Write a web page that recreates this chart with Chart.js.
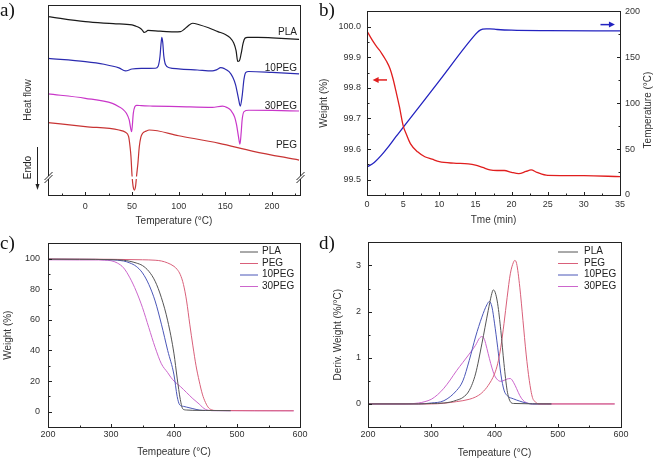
<!DOCTYPE html>
<html>
<head>
<meta charset="utf-8">
<script src="https://cdn.jsdelivr.net/npm/chart.js@4.4.0/dist/chart.umd.min.js"></script>
<style>
  body { margin: 0; background: #fff; width: 658px; height: 463px; position: relative; overflow: hidden; }
  canvas { position: absolute; }
  .tag { position: absolute; font-family: "Liberation Serif", "Times New Roman", serif; font-size: 19px; line-height: 19px; color: #111; }
</style>
</head>
<body>
<canvas id="chartA" width="329" height="230" style="left:0;top:0"></canvas>
<canvas id="chartB" width="348" height="230" style="left:310px;top:0"></canvas>
<canvas id="chartC" width="329" height="233" style="left:0;top:230px"></canvas>
<canvas id="chartD" width="329" height="233" style="left:329px;top:230px"></canvas>
<div class="tag" style="left:0;top:0">a)</div>
<div class="tag" style="left:319px;top:0">b)</div>
<div class="tag" style="left:0;top:233px">c)</div>
<div class="tag" style="left:319px;top:233px">d)</div>
<script>
// ===== a) DSC curves (arbitrary heat-flow units, offset traces) =====
const dscPLA_T = [-40, 0, 30, 50, 54, 58, 61, 63, 65, 67, 80, 95, 102, 106, 110, 115, 122, 132, 142, 150, 155, 159, 161.5, 163.3, 165, 167, 169, 171, 174, 185, 200, 229];
const dscPLA   = [93.9, 91.2, 90.2, 89.5, 88.9, 88.0, 86.8, 85.6, 85.9, 86.6, 86.2, 85.9, 86.0, 87.2, 89.0, 90.4, 89.6, 88.0, 86.0, 84.5, 82.8, 80.0, 76.0, 70.3, 70.6, 74.5, 79.8, 82.5, 83.0, 83.0, 82.7, 81.9];
const dsc10_T  = [-40, 0, 20, 36, 43, 50, 60, 75, 78, 80, 81, 82, 83, 84, 86, 90, 100, 120, 136, 141, 145, 149, 154, 158, 161, 164, 166, 168, 170, 172, 175, 200, 229];
const dsc10    = [71.9, 70.2, 68.8, 66.9, 65.3, 66.3, 66.6, 66.7, 67.8, 73.0, 79.0, 83.0, 80.0, 73.5, 68.5, 67.0, 66.4, 65.8, 65.3, 66.0, 67.0, 66.5, 64.9, 62.0, 58.0, 51.0, 46.8, 52.0, 61.0, 64.5, 65.0, 64.5, 63.7];
const dsc30_T  = [-40, 0, 29, 36, 40, 44, 47, 49.6, 51.4, 53, 55, 60, 72, 100, 136, 147, 152, 156, 160, 162, 164, 165.7, 167, 168, 170, 175, 200, 229];
const dsc30    = [53.2, 50.9, 48.2, 46.5, 45.2, 43.0, 39.5, 33.3, 43.0, 46.5, 47.2, 47.0, 46.8, 46.5, 46.1, 46.8, 46.0, 44.5, 41.0, 37.0, 31.0, 26.8, 33.0, 39.5, 43.9, 44.6, 44.5, 44.2];
const dscPEG_T = [-40, 0, 36, 43, 46.4, 48, 48.9, 50, 51.2, 52.5, 53.8, 55, 56.4, 57.8, 59.5, 61.4, 65, 68.5, 100, 143.5, 180, 229];
const dscPEG   = [38.1, 36.0, 34.2, 33.0, 30.7, 25.0, 20.2, 10.5, 4.5, 2.6, 4.5, 10.5, 17.0, 25.4, 30.5, 32.5, 33.6, 34.2, 31.2, 27.2, 23.0, 18.4];
const dscLabels = ["PLA", "10PEG", "30PEG", "PEG"];
const dscBreakAt = 9.2;

// ===== b) isothermal TGA: weight & temperature vs time =====
const isoTime   = [0, 0.5, 1, 1.5, 2, 2.7, 3.2, 3.6, 4, 4.5, 5, 5.5, 6, 7, 8, 9, 10, 12, 14, 15, 16, 17, 18, 19, 20, 21, 22, 22.7, 23.5, 25, 30, 35];
const isoWeight = [99.986, 99.965, 99.946, 99.93, 99.914, 99.887, 99.862, 99.83, 99.79, 99.737, 99.677, 99.645, 99.618, 99.591, 99.575, 99.567, 99.559, 99.554, 99.552, 99.548, 99.54, 99.532, 99.53, 99.53, 99.524, 99.52, 99.527, 99.532, 99.524, 99.514, 99.513, 99.51];
const rampTime  = [0, 1, 2, 3, 4, 5, 10, 15, 15.5, 16, 16.5, 17, 18, 20, 25, 35];
const rampTemp  = [30.5, 35.5, 43.5, 53, 63.5, 73.6, 124.3, 174.9, 178.8, 180.6, 181, 181, 180.3, 179.5, 179, 178.8];

// ===== c) TGA weight loss =====
const tgaPLA_T = [200, 250, 300, 320, 330, 340, 350, 360, 370, 380, 390, 400, 405, 410, 414, 420, 430, 450, 490];
const tgaPLA   = [99.7, 99.6, 99.4, 99.0, 98.3, 97.2, 95.5, 91.8, 85.3, 74.5, 59.4, 37.8, 22.0, 8.0, 1.8, 1.1, 0.9, 0.8, 0.7];
const tgaPEG_T = [200, 300, 350, 370, 380, 390, 400, 405, 410, 415, 420, 425, 430, 435, 440, 445, 450, 455, 460, 465, 590];
const tgaPEG   = [99.8, 99.6, 99.3, 99.0, 98.5, 97.2, 95.0, 93.0, 89.6, 83.2, 72.4, 57.2, 43.0, 30.0, 20.0, 11.5, 6.0, 2.5, 1.2, 0.8, 0.6];
const tga10_T  = [200, 250, 300, 320, 330, 340, 350, 360, 370, 380, 390, 400, 405, 409, 415, 420, 430, 440, 450, 490];
const tga10    = [99.7, 99.6, 99.3, 98.5, 97.2, 95.0, 90.7, 83.2, 72.4, 57.2, 40.0, 24.0, 10.0, 4.5, 3.5, 3.0, 2.0, 1.1, 0.8, 0.7];
const tga30_T  = [200, 250, 280, 290, 300, 310, 320, 330, 340, 350, 360, 370, 380, 390, 395, 400, 410, 420, 430, 440, 445, 450, 455, 460, 590];
const tga30    = [99.3, 99.2, 99.2, 99.0, 98.7, 97.2, 94.0, 87.5, 78.8, 68.0, 55.0, 42.1, 31.3, 25.5, 22.5, 20.0, 16.5, 12.5, 8.5, 5.0, 3.0, 1.5, 0.9, 0.7, 0.6];

// ===== d) DTG curves =====
const dtgPLA_T = [200, 280, 300, 320, 330, 340, 350, 360, 370, 380, 390, 395, 398, 401, 405, 410, 415, 420, 425, 430, 490];
const dtgPLA   = [0, 0, 0.01, 0.02, 0.04, 0.08, 0.14, 0.29, 0.65, 1.3, 2.02, 2.35, 2.47, 2.42, 2.17, 1.59, 0.87, 0.29, 0.05, 0.01, 0];
const dtgPEG_T = [200, 300, 340, 360, 370, 380, 390, 400, 405, 410, 415, 420, 425, 430, 432, 435, 440, 445, 450, 455, 460, 465, 470, 590];
const dtgPEG   = [0, 0, 0.05, 0.1, 0.15, 0.24, 0.4, 0.65, 0.87, 1.23, 1.74, 2.31, 2.82, 3.07, 3.11, 3.04, 2.53, 1.81, 1.08, 0.51, 0.14, 0.04, 0, 0];
const dtg10_T  = [200, 280, 300, 320, 340, 350, 360, 370, 380, 388, 392, 396, 400, 405, 410, 415, 420, 430, 440, 450, 460, 490];
const dtg10    = [0, 0, 0.02, 0.07, 0.29, 0.5, 0.94, 1.45, 1.88, 2.15, 2.22, 2.1, 1.75, 1.23, 0.65, 0.3, 0.18, 0.11, 0.06, 0.02, 0, 0];
const dtg30_T  = [200, 260, 280, 290, 300, 310, 320, 330, 340, 350, 360, 370, 376, 380, 384, 388, 392, 396, 400, 405, 410, 415, 420, 425, 430, 435, 440, 445, 450, 460, 590];
const dtg30    = [0, 0, 0.02, 0.05, 0.1, 0.2, 0.34, 0.52, 0.72, 0.9, 1.08, 1.27, 1.42, 1.46, 1.4, 1.2, 0.98, 0.78, 0.62, 0.52, 0.49, 0.51, 0.54, 0.55, 0.47, 0.33, 0.18, 0.08, 0.03, 0, 0];

const tgaNames  = ["PLA", "PEG", "10PEG", "30PEG"];
const tgaColors = ["#555555", "#d9607a", "#4b57b8", "#cc66cc"];

// ===== defaults =====
Chart.defaults.font.family = '"Liberation Sans", Arial, sans-serif';
Chart.defaults.color = '#333';
Chart.defaults.animation = false;
Chart.defaults.responsive = false;
Chart.defaults.plugins.legend.display = false;
Chart.defaults.plugins.tooltip.enabled = false;

const INK = '#222';

function pts(xs, ys) {
  return xs.map((x, i) => ({ x: x, y: ys[i] }));
}

function series(label, xs, ys, color, width, axisId) {
  const ds = {
    label: label, data: pts(xs, ys), borderColor: color, borderWidth: width,
    pointRadius: 0, fill: false, cubicInterpolationMode: 'monotone'
  };
  if (axisId) ds.yAxisID = axisId;
  return ds;
}

function isMajor(v, major) {
  return Math.abs(v / major - Math.round(v / major)) < 1e-6;
}

// one linear axis; tick marks are drawn inward by drawFrame(), labels only on majors
function axis(o) {
  const showTicks = o.step !== undefined;
  return {
    type: 'linear', position: o.pos, min: o.min, max: o.max,
    afterFit: s => { if (o.pos === 'bottom') s.height = o.size; else s.width = o.size; },
    border: { display: false },
    grid: { display: false, drawTicks: false, tickLength: 0 },
    ticks: {
      display: showTicks, stepSize: o.step, maxTicksLimit: 100, autoSkip: false, includeBounds: false,
      maxRotation: 0, padding: o.pad || 0, font: { size: 9 }, color: '#333',
      callback: v => isMajor(v, o.major) ? (o.dec ? v.toFixed(o.dec) : String(Math.round(v))) : ''
    },
    title: { display: !!o.title, text: o.title, font: { size: 10 }, color: '#333', padding: o.tpad || 0 }
  };
}

// box round the plot plus inward tick marks
function drawFrame(chart) {
  const { ctx, chartArea: a } = chart;
  const L = Math.round(a.left) + 0.5, T = Math.round(a.top) + 0.5;
  const R = L + Math.round(a.right - a.left), B = T + Math.round(a.bottom - a.top);
  ctx.save();
  ctx.strokeStyle = INK;
  ctx.lineWidth = 1;
  ctx.strokeRect(L, T, R - L, B - T);
  ctx.beginPath();
  Object.values(chart.scales).forEach(s => {
    if (!s.options.ticks.display) return;
    s.ticks.forEach(t => {
      const len = t.label !== '' ? 3.5 : 2;
      const p = Math.round(s.getPixelForValue(t.value)) + 0.5;
      if (s.position === 'bottom') {
        if (p <= L + 1 || p >= R - 1) return;
        ctx.moveTo(p, B); ctx.lineTo(p, B - len);
      } else if (s.position === 'left') {
        if (p <= T + 1 || p >= B - 1) return;
        ctx.moveTo(L, p); ctx.lineTo(L + len, p);
      } else if (s.position === 'right') {
        if (p <= T + 1 || p >= B - 1) return;
        ctx.moveTo(R, p); ctx.lineTo(R - len, p);
      }
    });
  });
  ctx.stroke();
  ctx.restore();
}

function arrow(ctx, x1, y, x2, color) {
  const dir = Math.sign(x2 - x1);
  ctx.strokeStyle = color;
  ctx.fillStyle = color;
  ctx.lineWidth = 1.5;
  ctx.beginPath();
  ctx.moveTo(x1, y);
  ctx.lineTo(x2 - dir * 5, y);
  ctx.stroke();
  ctx.beginPath();
  ctx.moveTo(x2, y);
  ctx.lineTo(x2 - dir * 6, y - 3);
  ctx.lineTo(x2 - dir * 6, y + 3);
  ctx.closePath();
  ctx.fill();
}

// ===== a) =====
const dscExtras = {
  id: 'dscExtras',
  afterDatasetsDraw(chart) {
    const { ctx, chartArea: a, scales } = chart;
    const yb = scales.y.getPixelForValue(dscBreakAt);
    ctx.save();
    ctx.fillStyle = '#fff';
    ctx.fillRect(a.left + 1, yb - 1, a.right - a.left - 2, 2.5);
    ctx.restore();
  },
  afterDraw(chart) {
    const { ctx, chartArea: a, scales } = chart;
    drawFrame(chart);
    const yb = scales.y.getPixelForValue(dscBreakAt);
    ctx.save();
    // axis breaks
    [a.left, a.right].forEach(x => {
      x = Math.round(x) + 0.5;
      ctx.fillStyle = '#fff';
      ctx.fillRect(x - 1.5, yb - 1.5, 3, 3);
      ctx.strokeStyle = INK;
      ctx.lineWidth = 1;
      ctx.beginPath();
      [-1.5, 1.5].forEach(d => { ctx.moveTo(x - 4, yb + d + 4); ctx.lineTo(x + 4, yb + d - 4); });
      ctx.stroke();
    });
    // curve names
    ctx.fillStyle = INK;
    ctx.font = '10px "Liberation Sans", Arial, sans-serif';
    ctx.textAlign = 'right';
    ctx.textBaseline = 'middle';
    const labelY = [32, 68.5, 106, 145];
    dscLabels.forEach((t, i) => ctx.fillText(t, a.right - 3, labelY[i]));
    // Endo arrow
    ctx.save();
    ctx.translate(28.5, 167.5);
    ctx.rotate(-Math.PI / 2);
    ctx.textAlign = 'center';
    ctx.fillText('Endo', 0, 0);
    ctx.restore();
    ctx.strokeStyle = INK;
    ctx.lineWidth = 1;
    ctx.beginPath();
    ctx.moveTo(37.5, 147);
    ctx.lineTo(37.5, 185);
    ctx.stroke();
    ctx.fillStyle = INK;
    ctx.beginPath();
    ctx.moveTo(37.5, 190);
    ctx.lineTo(35.5, 184);
    ctx.lineTo(39.5, 184);
    ctx.closePath();
    ctx.fill();
    ctx.restore();
  }
};

new Chart(document.getElementById('chartA'), {
  type: 'line',
  data: {
    datasets: [
      series('PLA', dscPLA_T, dscPLA, '#1a1a1a', 1.2),
      series('10PEG', dsc10_T, dsc10, '#2b2bb0', 1.2),
      series('30PEG', dsc30_T, dsc30, '#c936c9', 1.2),
      series('PEG', dscPEG_T, dscPEG, '#c83434', 1.2)
    ]
  },
  options: {
    layout: { padding: { left: 0, right: 29, top: 5, bottom: 0 } },
    scales: {
      x: axis({ pos: 'bottom', min: -40, max: 230, step: 25, major: 50, size: 35, pad: 6, title: 'Temperature (\u00B0C)', tpad: { top: 0, bottom: 3 } }),
      y: axis({ pos: 'left', min: 0, max: 100, size: 48, title: 'Heat flow', tpad: { top: 22, bottom: 0 } })
    }
  },
  plugins: [dscExtras]
});

// ===== b) =====
const isoExtras = {
  id: 'isoExtras',
  afterDraw(chart) {
    const { ctx, scales } = chart;
    drawFrame(chart);
    ctx.save();
    const x = scales.x, yL = scales.y, yR = scales.y2;
    arrow(ctx, x.getPixelForValue(2.77), yL.getPixelForValue(99.826), x.getPixelForValue(0.78), '#e01e1e');
    arrow(ctx, x.getPixelForValue(32.3), yR.getPixelForValue(185.6), x.getPixelForValue(34.3), '#2323c0');
    ctx.fillStyle = '#333';
    ctx.font = '10px "Liberation Sans", Arial, sans-serif';
    ctx.textAlign = 'center';
    ctx.textBaseline = 'middle';
    ctx.translate(338.7, 110);
    ctx.rotate(-Math.PI / 2);
    ctx.fillText('Temperature (\u00B0C)', 0, 0);
    ctx.restore();
  }
};

new Chart(document.getElementById('chartB'), {
  type: 'line',
  data: {
    datasets: [
      series('Weight', isoTime, isoWeight, '#e01e1e', 1.3, 'y'),
      series('Temperature', rampTime, rampTemp, '#2323c0', 1.3, 'y2')
    ]
  },
  options: {
    layout: { padding: { left: 0, right: 0, top: 9, bottom: 0 } },
    scales: {
      x: axis({ pos: 'bottom', min: 0, max: 35, step: 2.5, major: 5, size: 35, pad: 4, title: 'Tme (min)', tpad: { top: 0, bottom: 4 } }),
      y: axis({ pos: 'left', min: 99.45, max: 100.05, step: 0.05, major: 0.1, dec: 1, size: 57, pad: 6, title: 'Weight (%)', tpad: { top: 8, bottom: 0 } }),
      y2: axis({ pos: 'right', min: 0, max: 200, step: 25, major: 50, size: 38, pad: 5 })
    }
  },
  plugins: [isoExtras]
});

// ===== c) and d) share the legend style =====
function legendPlugin(id, x1, x2, xt, rows) {
  return {
    id: id,
    afterDraw(chart) {
      const { ctx } = chart;
      drawFrame(chart);
      ctx.save();
      ctx.font = '10px "Liberation Sans", Arial, sans-serif';
      ctx.textAlign = 'left';
      ctx.textBaseline = 'middle';
      chart.data.datasets.forEach((ds, i) => {
        const y = rows[i];
        ctx.strokeStyle = ds.borderColor;
        ctx.lineWidth = 1;
        ctx.beginPath();
        ctx.moveTo(x1, y + 0.5);
        ctx.lineTo(x2, y + 0.5);
        ctx.stroke();
        ctx.fillStyle = '#222';
        ctx.fillText(ds.label, xt, y);
      });
      ctx.restore();
    }
  };
}

const legendRows = [21.5, 33, 44.5, 56];

new Chart(document.getElementById('chartC'), {
  type: 'line',
  data: {
    datasets: [
      series(tgaNames[0], tgaPLA_T, tgaPLA, tgaColors[0], 1),
      series(tgaNames[1], tgaPEG_T, tgaPEG, tgaColors[1], 1),
      series(tgaNames[2], tga10_T, tga10, tgaColors[2], 1),
      series(tgaNames[3], tga30_T, tga30, tgaColors[3], 1)
    ]
  },
  options: {
    layout: { padding: { left: 0, right: 29, top: 12, bottom: 0 } },
    scales: {
      x: axis({ pos: 'bottom', min: 200, max: 600, step: 50, major: 100, size: 36, pad: 2, title: 'Tempeature (\u00B0C)', tpad: { top: 0, bottom: 5 } }),
      y: axis({ pos: 'left', min: -10, max: 110, step: 10, major: 20, size: 48, pad: 8, title: 'Weight (%)', tpad: { top: 2, bottom: 0 } })
    }
  },
  plugins: [legendPlugin('legC', 240, 258, 262, legendRows)]
});

new Chart(document.getElementById('chartD'), {
  type: 'line',
  data: {
    datasets: [
      series(tgaNames[0], dtgPLA_T, dtgPLA, tgaColors[0], 1),
      series(tgaNames[1], dtgPEG_T, dtgPEG, tgaColors[1], 1),
      series(tgaNames[2], dtg10_T, dtg10, tgaColors[2], 1),
      series(tgaNames[3], dtg30_T, dtg30, tgaColors[3], 1)
    ]
  },
  options: {
    layout: { padding: { left: 0, right: 37, top: 12, bottom: 0 } },
    scales: {
      x: axis({ pos: 'bottom', min: 200, max: 600, step: 50, major: 100, size: 36, pad: 2, title: 'Tempeature (\u00B0C)', tpad: { top: 0, bottom: 4 } }),
      y: axis({ pos: 'left', min: -0.5, max: 3.5, step: 0.5, major: 1, size: 39, pad: 7, title: 'Deriv. Weight (%/\u00B0C)', tpad: { top: 3, bottom: 0 } })
    }
  },
  plugins: [legendPlugin('legD', 229, 249, 255, legendRows)]
});
</script>
</body>
</html>
